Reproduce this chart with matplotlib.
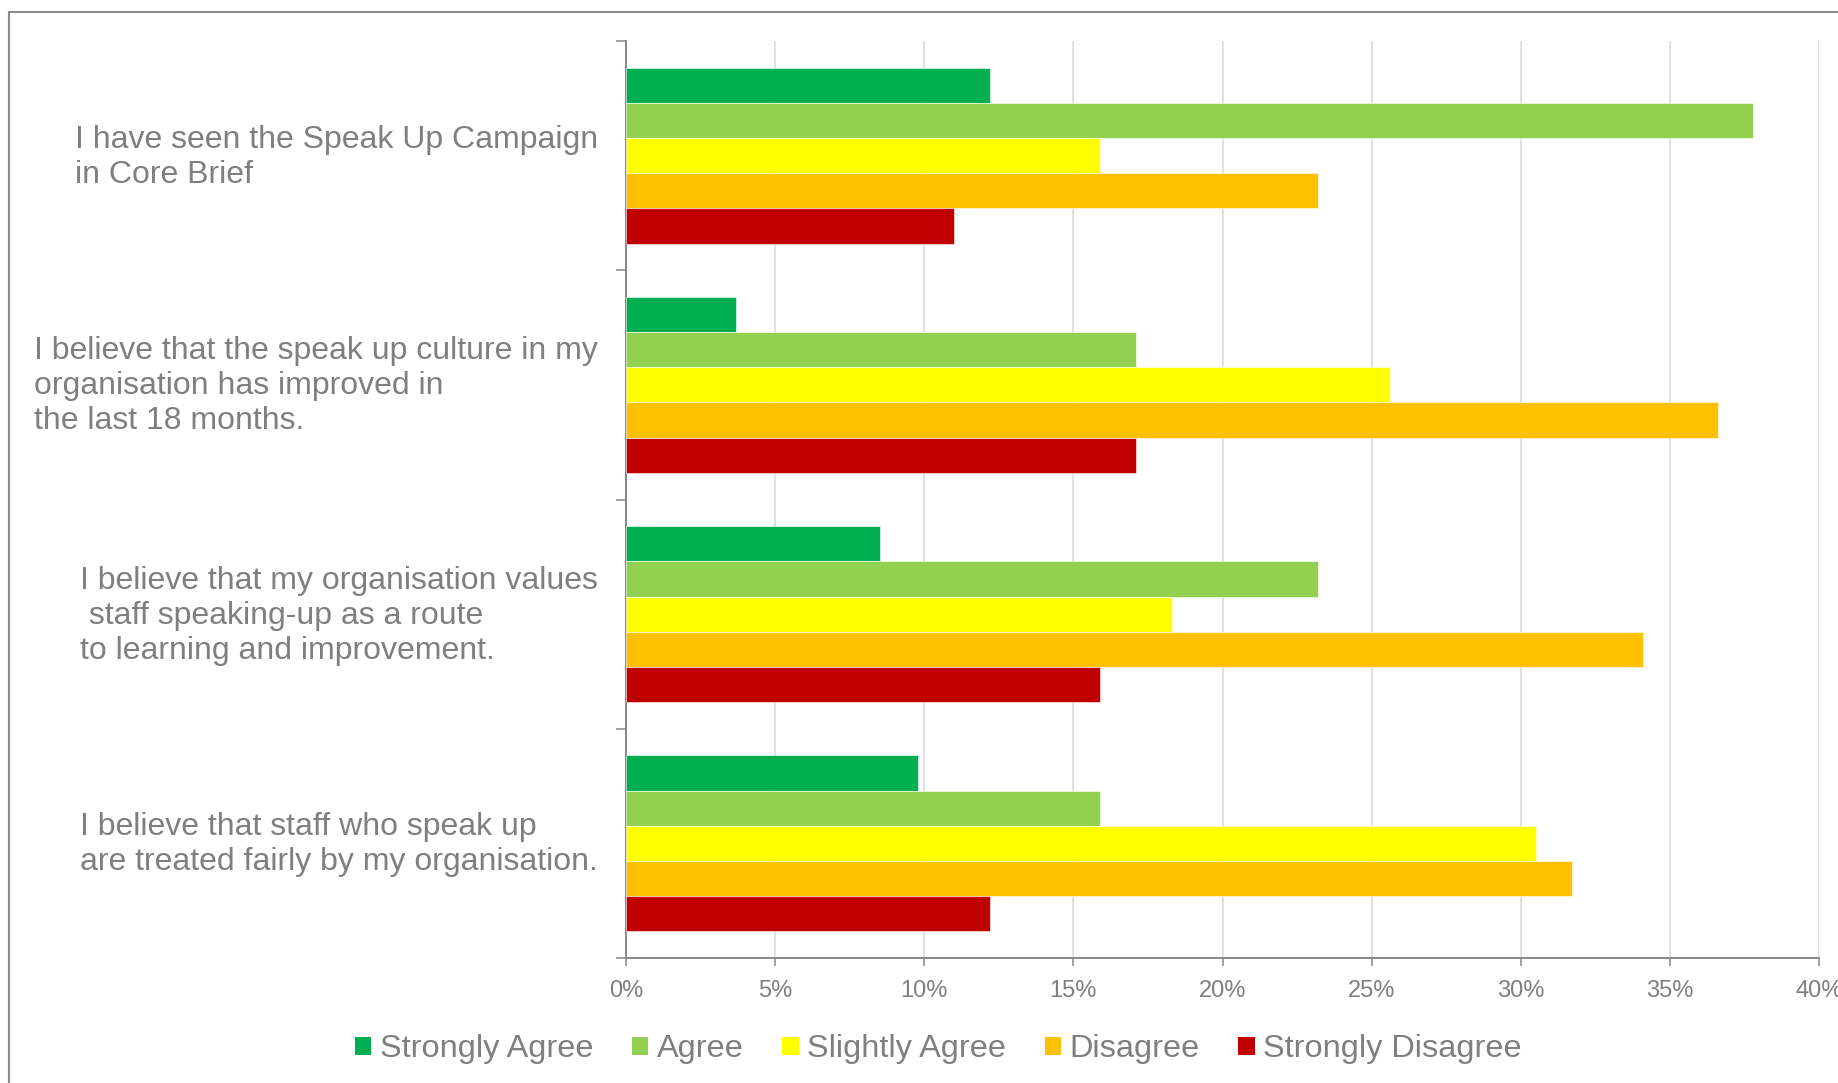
import matplotlib
matplotlib.use("Agg")
import matplotlib.pyplot as plt
import numpy as np
from matplotlib.patches import Patch, Rectangle
from matplotlib.ticker import PercentFormatter

plt.rcParams['font.family'] = ['Liberation Sans', 'DejaVu Sans']

# survey statements, top to bottom
questions = [
    "I have seen the Speak Up Campaign\nin Core Brief",
    "I believe that the speak up culture in my\norganisation has improved in\nthe last 18 months.",
    "I believe that my organisation values\n staff speaking-up as a route\nto learning and improvement.",
    "I believe that staff who speak up\nare treated fairly by my organisation.",
]

responses = ["Strongly Agree", "Agree", "Slightly Agree", "Disagree", "Strongly Disagree"]
colors = ["#00B050", "#92D050", "#FFFF00", "#FFC000", "#C00000"]

# percentage of respondents per answer, one list per statement
strongly_agree = [12.2, 3.7, 8.5, 9.8]
agree = [37.8, 17.1, 23.2, 15.9]
slightly_agree = [15.9, 25.6, 18.3, 30.5]
disagree = [23.2, 36.6, 34.1, 31.7]
strongly_disagree = [11.0, 17.1, 15.9, 12.2]

series = [strongly_agree, agree, slightly_agree, disagree, strongly_disagree]

text_grey = "#7f7f7f"
axis_grey = "#888888"

fig = plt.figure(figsize=(18.38, 10.83), dpi=100)
ax = fig.add_axes([0.3406, 0.1154, 0.6491, 0.8467])

# outer frame round the chart area
fig.patches.append(Rectangle((9 / 1838, -0.1), 1.2, 1.1 - 12 / 1083,
                             transform=fig.transFigure, fill=False,
                             edgecolor="#8c8c8c", linewidth=1.5))

n = len(series)
bar_h = 0.767 / n
y = np.arange(len(questions))
for j, (vals, col) in enumerate(zip(series, colors)):
    offs = -0.767 / 2 + (j + 0.5) * bar_h
    ax.barh(y + offs, vals, height=bar_h, color=col, edgecolor="white",
            linewidth=0.4, zorder=3)

ax.set_xlim(0, 40)
ax.set_ylim(len(questions) - 0.5, -0.5)
ax.set_xticks(np.arange(0, 41, 5))
ax.xaxis.set_major_formatter(PercentFormatter(decimals=0))
ax.grid(axis="x", color="#d9d9d9", linewidth=1.1, zorder=0)
ax.set_axisbelow(True)

ax.set_yticks(y - 0.02)
ax.set_yticklabels(questions, ma="left", fontsize=23, color=text_grey,
                   linespacing=1.22)
ax.set_yticks(np.arange(-0.5, len(questions), 1), minor=True)
ax.tick_params(axis="y", which="major", length=0, pad=20)
ax.tick_params(axis="y", which="minor", length=7, width=1.1, color=axis_grey)
ax.tick_params(axis="x", length=6, width=1.1, color=axis_grey,
               labelsize=17, labelcolor=text_grey, pad=10)

for side in ["top", "right"]:
    ax.spines[side].set_visible(False)
for side in ["left", "bottom"]:
    ax.spines[side].set_color(axis_grey)
    ax.spines[side].set_linewidth(1.4)

handles = [Patch(facecolor=c, edgecolor="none", label=r) for r, c in zip(responses, colors)]
leg = fig.legend(handles=handles, loc="center", bbox_to_anchor=(0.5105, 0.031),
                 ncol=5, frameon=False, fontsize=23.4, handlelength=0.5,
                 handleheight=0.5, handletextpad=0.25, columnspacing=1.2)
for t in leg.get_texts():
    t.set_color(text_grey)

fig.savefig("out.png", dpi=100)
